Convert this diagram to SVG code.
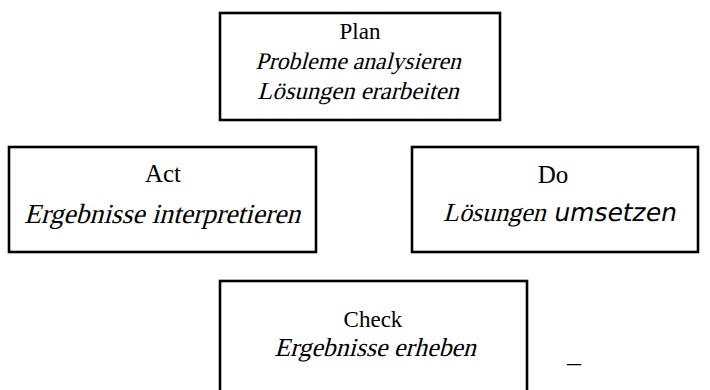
<svg xmlns="http://www.w3.org/2000/svg" width="710" height="390" viewBox="0 0 710 390">
<style>
.box{fill:#fff;stroke:#000;stroke-width:2.6}
.t{font-family:"Liberation Serif","Times New Roman",serif;font-size:23px;fill:#000;text-anchor:middle}
.l{text-anchor:start}
.s{font-family:"DejaVu Sans",sans-serif;font-size:25px;fill:#000}
</style>
<rect width="710" height="390" fill="#fff"/>
<g id="connectors"></g>
<g id="plan">
<rect class="box" x="220" y="13" width="280" height="107"/>
<text class="t" x="360" y="39">Plan</text>
<text class="t" transform="translate(358,69) skewX(-15)" style="font-size:23.8px">Probleme analysieren</text>
<text class="t" transform="translate(358,99) skewX(-15)" style="font-size:24.6px">Lösungen erarbeiten</text>
</g>
<g id="act">
<rect class="box" x="9" y="147" width="307" height="105"/>
<text class="t" x="163" y="182" style="font-size:25px">Act</text>
<text class="t" transform="translate(162,223) skewX(-15)" style="font-size:27.6px">Ergebnisse interpretieren</text>
</g>
<g id="do">
<rect class="box" x="412" y="147" width="286" height="105"/>
<text class="t" x="553" y="183" style="font-size:25px">Do</text>
<text class="t l" transform="translate(443,221) skewX(-15)" style="font-size:26px">Lösungen</text>
<text class="s" transform="translate(553,221) skewX(-11)">umsetzen</text>
</g>
<g id="check">
<rect class="box" x="220" y="281" width="307" height="120"/>
<text class="t" x="373" y="327">Check</text>
<text class="t" transform="translate(375,356) skewX(-15)" style="font-size:25.9px">Ergebnisse erheben</text>
</g>
<text class="t" x="574" y="371" style="font-size:28px">–</text>
</svg>
